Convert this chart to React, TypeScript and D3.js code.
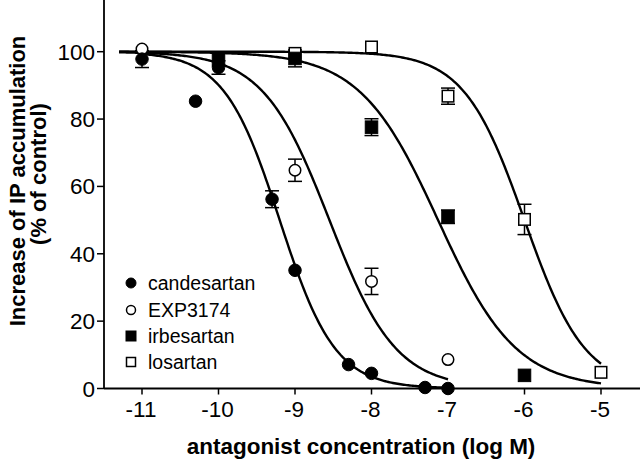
import React from "react";
import * as d3 from "d3";

// ---- data ----
const xTicks = [-11, -10, -9, -8, -7, -6, -5];
const yTicks = [0, 20, 40, 60, 80, 100];

const seriesNames = ["candesartan", "EXP3174", "irbesartan", "losartan"];
const seriesMarkers = ["circleFilled", "circleOpen", "squareFilled", "squareOpen"];

const candesartanX = [-11, -10.3, -10, -9.3, -9, -8.3, -8, -7.3, -7];
const candesartanY = [97.8, 85.3, 95.3, 56.2, 35.1, 7.1, 4.5, 0.3, 0];
const candesartanErr = [2.5, 0, 2, 2.5, 0, 0, 0, 0, 0];

const exp3174X = [-11, -9, -8, -7];
const exp3174Y = [100.8, 64.8, 31.8, 8.6];
const exp3174Err = [0, 3.3, 3.9, 0];

const irbesartanX = [-10, -9, -8, -7, -6];
const irbesartanY = [97.5, 98, 77.6, 51, 3.9];
const irbesartanErr = [0, 2.5, 2.5, 2, 0];

const losartanX = [-9, -8, -7, -6, -5];
const losartanY = [99.5, 101.4, 86.8, 50.2, 4.8];
const losartanErr = [0, 0, 2.4, 4.5, 0];

// fitted sigmoid parameters (top 100, bottom 0)
const logIC50 = [-9.2, -8.55, -7.13, -6.0];
const hillSlope = [1.2, 1.0, 0.85, 1.1];
const curveStart = [-11, -11.3, -11.3, -11.3];
const curveEnd = [-7, -7, -5, -5];

const seriesX = [candesartanX, exp3174X, irbesartanX, losartanX];
const seriesY = [candesartanY, exp3174Y, irbesartanY, losartanY];
const seriesErr = [candesartanErr, exp3174Err, irbesartanErr, losartanErr];

const FONT = "'Liberation Sans', Arial, Helvetica, sans-serif";

function Marker({ type, x, y, size }: { type: string; x: number; y: number; size: number }) {
  const r = size / 2;
  if (type === "circleFilled")
    return <circle cx={x} cy={y} r={r} fill="#000" stroke="#000" strokeWidth={1} />;
  if (type === "circleOpen")
    return <circle cx={x} cy={y} r={r - 0.5} fill="#fff" stroke="#000" strokeWidth={1.5} />;
  if (type === "squareFilled")
    return <rect x={x - r} y={y - r} width={size} height={size} fill="#000" stroke="#000" strokeWidth={1} />;
  return <rect x={x - r + 0.5} y={y - r + 0.5} width={size - 1} height={size - 1} fill="#fff" stroke="#000" strokeWidth={1.5} />;
}

export default function App() {
  const width = 640;
  const height = 460;

  const x = d3.scaleLinear().domain([-11, -5]).range([142, 601]);
  const y = d3.scaleLinear().domain([0, 100]).range([388.5, 51.7]);
  const xLeft = 104;
  const xRight = 640;
  const yBottom = y(0);
  const yTop = 0;

  const line = d3
    .line<[number, number]>()
    .x((d) => x(d[0]))
    .y((d) => y(d[1]))
    .curve(d3.curveLinear);

  const curves = seriesNames.map((_, i) => {
    const pts: [number, number][] = d3
      .range(curveStart[i], curveEnd[i] + 1e-9, 0.02)
      .map((lx) => [lx, 100 / (1 + Math.pow(10, (lx - logIC50[i]) * hillSlope[i]))]);
    return line(pts) || "";
  });

  const drawOrder = [3, 2, 1, 0];
  const legendY = [283, 310, 336, 362];

  return (
    <svg
      width={width}
      height={height}
      style={{ position: "absolute", left: 0, top: 0, background: "#fff" }}
      fontFamily={FONT}
    >
      <rect x={0} y={0} width={width} height={height} fill="#fff" />

      {/* curves */}
      {curves.map((d, i) => (
        <path key={"c" + i} d={d} fill="none" stroke="#000" strokeWidth={2.4} />
      ))}

      {/* axes */}
      <line x1={xLeft} x2={xLeft} y1={yTop} y2={yBottom} stroke="#000" strokeWidth={1.8} />
      <line x1={xLeft} x2={xRight} y1={yBottom} y2={yBottom} stroke="#000" strokeWidth={1.8} />

      {yTicks.map((t) => (
        <g key={"yt" + t}>
          <line x1={xLeft - 7} x2={xLeft} y1={y(t)} y2={y(t)} stroke="#000" strokeWidth={1.5} />
          <text x={xLeft - 9} y={y(t) + 8} textAnchor="end" fontSize={22.5}>
            {t}
          </text>
        </g>
      ))}

      {xTicks.map((t) => (
        <g key={"xt" + t}>
          <line x1={x(t)} x2={x(t)} y1={yBottom} y2={yBottom + 6} stroke="#000" strokeWidth={1.5} />
          <text x={x(t) - 1} y={yBottom + 28} textAnchor="middle" fontSize={22.5}>
            {t}
          </text>
        </g>
      ))}

      {/* error bars */}
      {drawOrder.map((si) =>
        seriesX[si].map((vx, j) => {
          const e = seriesErr[si][j];
          if (!e) return null;
          const cx = x(vx);
          const y1 = y(seriesY[si][j] - e);
          const y2 = y(seriesY[si][j] + e);
          return (
            <g key={"e" + si + "-" + j} stroke="#000" strokeWidth={1.5}>
              <line x1={cx} x2={cx} y1={y1} y2={y2} />
              <line x1={cx - 7} x2={cx + 7} y1={y1} y2={y1} />
              <line x1={cx - 7} x2={cx + 7} y1={y2} y2={y2} />
            </g>
          );
        })
      )}

      {/* markers */}
      {drawOrder.map((si) =>
        seriesX[si].map((vx, j) => (
          <Marker
            key={"m" + si + "-" + j}
            type={seriesMarkers[si]}
            x={x(vx)}
            y={y(seriesY[si][j])}
            size={12.5}
          />
        ))
      )}

      {/* legend */}
      {seriesNames.map((n, i) => (
        <g key={"lg" + i}>
          <Marker type={seriesMarkers[i]} x={131} y={legendY[i]} size={10} />
          <text x={148} y={legendY[i] + 7} fontSize={19.5}>
            {n}
          </text>
        </g>
      ))}

      {/* axis titles */}
      <text x={361} y={454} textAnchor="middle" fontSize={22.5} fontWeight="bold">
        antagonist concentration (log M)
      </text>
      <text
        transform={`translate(25,181) rotate(-90)`}
        textAnchor="middle"
        fontSize={22}
        fontWeight="bold"
      >
        Increase of IP accumulation
      </text>
      <text
        transform={`translate(46,174) rotate(-90)`}
        textAnchor="middle"
        fontSize={22}
        fontWeight="bold"
      >
        (% of control)
      </text>
    </svg>
  );
}
